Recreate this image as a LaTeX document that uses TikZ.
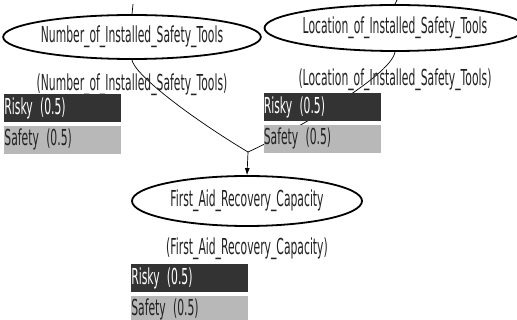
\documentclass[tikz,border=0pt]{standalone}
\usepackage{fontspec}
\setmainfont{DejaVu Sans}[FakeStretch=0.49]
\usepackage{tikz}
\usetikzlibrary{positioning,shapes.geometric,arrows.meta,backgrounds}

\definecolor{riskbar}{HTML}{333333}
\definecolor{safebar}{HTML}{B8B8B8}
\definecolor{inktext}{HTML}{222222}

\begin{document}
\begin{tikzpicture}[x=1pt, y=-1pt,
	font=\fontsize{22}{24}\selectfont, text=inktext,
	var/.style= {ellipse, draw=black, line width=1.8pt, inner sep=0pt},
	tag/.style= {inner sep=0pt},
	bar/.style= {inner sep=0pt, text width=117pt, minimum height=28pt, align=left},
	risky/.style= {bar, fill=riskbar, text=white},
	safe/.style= {bar, fill=safebar, text=inktext},
	link/.style= {draw=black, line width=0.7pt}]
	\useasboundingbox (0,0) rectangle (517,320);

	\node[var, minimum width=239pt, minimum height=44pt] (n1) at (132,37) {Number\_of\_Installed\_Safety\_Tools};
	\node[var, minimum width=230pt, minimum height=46pt] (n2) at (395,28) {Location\_of\_Installed\_Safety\_Tools};
	\node[var, minimum width=230pt, minimum height=50pt] (n3) at (247,201) {First\_Aid\_Recovery\_Capacity};

	\node[tag] (l1) [below=14pt of n1] {(Number\_of\_Installed\_Safety\_Tools)};
	\node[tag] (l2) [below=17pt of n2] {(Location\_of\_Installed\_Safety\_Tools)};
	\node[tag] (l3) [below=11pt of n3] {(First\_Aid\_Recovery\_Capacity)};

	\node[risky, anchor=north west] (r1) at ([xshift=2pt, yshift=2pt] n1.west |- l1.south) {Risky (0.5)};
	\node[safe] (s1) [below=3pt of r1] {Safety (0.5)};
	\node[risky, anchor=north west] (r2) at ([yshift=-2pt] n2.west |- l2.south) {Risky (0.5)};
	\node[safe] (s2) [below=3pt of r2] {Safety (0.5)};
	\node[risky, anchor=north west] (r3) at ([yshift=-4pt] n3.west |- l3.south) {Risky (0.5)};
	\node[safe] (s3) [below=3pt of r3] {Safety (0.5)};

	\coordinate (j) at (248,152);
	\coordinate (t1) at (133,4);
	\coordinate (t2) at (397,0);

	\begin{scope}[on background layer]
		\draw[link] (t1) -- (n1.north);
		\draw[link] (t2) -- (n2.north);
		\draw[link] (n1.south) .. controls +(2,14) and +(-60,-36) .. (j);
		\draw[link] (n2.south) .. controls +(-4,25) and +(40,-18) .. (j);
		\draw[link, -{Latex[length=7pt, width=5pt]}] (j) -- (n3.north);
	\end{scope}
\end{tikzpicture}
\end{document}
